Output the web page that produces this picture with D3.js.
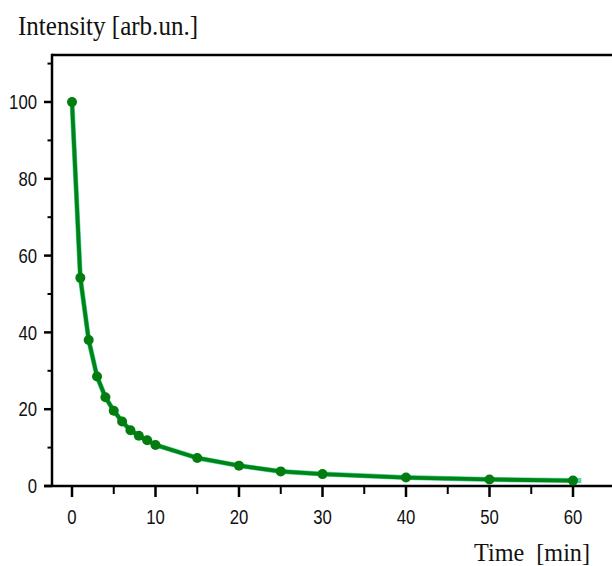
<!DOCTYPE html>
<html>
<head>
<meta charset="utf-8">
<script src="https://cdn.jsdelivr.net/npm/d3@7.9.0/dist/d3.min.js"></script>
<style>
  body { margin: 0; background: #fff; }
  svg { display: block; }
  .tick-label { font-family: "Liberation Sans Narrow", "Liberation Sans", Arial, sans-serif; font-size: 20px; fill: #111; }
  .title { font-family: "Liberation Serif", "DejaVu Serif", serif; font-size: 27px; fill: #111; }
</style>
</head>
<body>
<svg id="chart" width="612" height="566"></svg>
<script>
// data
const times = [0, 1, 2, 3, 4, 5, 6, 7, 8, 9, 10, 15, 20, 25, 30, 40, 50, 60];
const intensity = [100, 54.2, 38, 28.5, 23.1, 19.6, 16.8, 14.5, 13.1, 11.9, 10.7, 7.3, 5.3, 3.8, 3.1, 2.2, 1.7, 1.4];
const xMajorTicks = [0, 10, 20, 30, 40, 50, 60];
const xMinorTicks = [5, 15, 25, 35, 45, 55, 65];
const yMajorTicks = [0, 20, 40, 60, 80, 100];
const yMinorTicks = [10, 30, 50, 70, 90, 110];
const tailTime = 61; // fit line runs a little past the last point

const svg = d3.select('#chart');

const x = d3.scaleLinear().domain([0, 60]).range([72, 573]);
const y = d3.scaleLinear().domain([0, 100]).range([486, 102]);

const axisX = 52;
const axisY = 486;
const topY = 55;

// narrow digits, like Arial Narrow
const digitW = 9.3;

// frame: top line, left axis, bottom axis
svg.append('line')
  .attr('x1', axisX).attr('x2', 612)
  .attr('y1', topY).attr('y2', topY)
  .attr('stroke', '#000').attr('stroke-width', 2.5);

svg.append('line')
  .attr('x1', axisX).attr('x2', axisX)
  .attr('y1', topY - 1.2).attr('y2', axisY)
  .attr('stroke', '#000').attr('stroke-width', 2.5);

svg.append('line')
  .attr('x1', 44).attr('x2', 612)
  .attr('y1', axisY).attr('y2', axisY)
  .attr('stroke', '#000').attr('stroke-width', 2.5);

// y ticks
yMajorTicks.forEach((v) => {
  svg.append('line')
    .attr('x1', 44).attr('x2', axisX)
    .attr('y1', y(v)).attr('y2', y(v))
    .attr('stroke', '#000').attr('stroke-width', 2.5);
  svg.append('text')
    .attr('class', 'tick-label')
    .attr('x', 37).attr('y', y(v))
    .attr('dy', '0.36em')
    .attr('text-anchor', 'end')
    .attr('textLength', String(v).length * digitW)
    .attr('lengthAdjust', 'spacingAndGlyphs')
    .text(v);
});
yMinorTicks.forEach((v) => {
  svg.append('line')
    .attr('x1', 47.5).attr('x2', axisX)
    .attr('y1', y(v)).attr('y2', y(v))
    .attr('stroke', '#000').attr('stroke-width', 2);
});

// x ticks
xMajorTicks.forEach((v) => {
  svg.append('line')
    .attr('x1', x(v)).attr('x2', x(v))
    .attr('y1', axisY).attr('y2', axisY + 11)
    .attr('stroke', '#000').attr('stroke-width', 2.5);
  svg.append('text')
    .attr('class', 'tick-label')
    .attr('x', x(v)).attr('y', 517)
    .attr('dy', '0.36em')
    .attr('text-anchor', 'middle')
    .attr('textLength', String(v).length * digitW)
    .attr('lengthAdjust', 'spacingAndGlyphs')
    .text(v);
});
xMinorTicks.forEach((v) => {
  svg.append('line')
    .attr('x1', x(v)).attr('x2', x(v))
    .attr('y1', axisY).attr('y2', axisY + 8)
    .attr('stroke', '#000').attr('stroke-width', 2);
});

// lines
const pts = times.map((t, i) => [t, intensity[i]]);
const fitPts = pts.concat([[tailTime, intensity[intensity.length - 1]]]);
const line = d3.line().x((d) => x(d[0])).y((d) => y(d[1]));

svg.append('path')
  .attr('d', line(fitPts))
  .attr('fill', 'none')
  .attr('stroke', '#4fd9a8')
  .attr('stroke-width', 5)
  .attr('stroke-linejoin', 'round');

svg.append('path')
  .attr('d', line(pts))
  .attr('fill', 'none')
  .attr('stroke', '#038315')
  .attr('stroke-width', 3.8)
  .attr('stroke-linejoin', 'round');

svg.selectAll('circle.pt')
  .data(pts)
  .join('circle')
  .attr('class', 'pt')
  .attr('cx', (d) => x(d[0]))
  .attr('cy', (d) => y(d[1]))
  .attr('r', 5)
  .attr('fill', '#037c10');

// titles
svg.append('text')
  .attr('class', 'title')
  .attr('x', 18).attr('y', 35)
  .attr('textLength', 180)
  .attr('lengthAdjust', 'spacingAndGlyphs')
  .text('Intensity [arb.un.]');

svg.append('text')
  .attr('class', 'title')
  .attr('x', 474).attr('y', 561)
  .attr('textLength', 116)
  .attr('lengthAdjust', 'spacingAndGlyphs')
  .style('font-size', '25px')
  .attr('xml:space', 'preserve')
  .style('white-space', 'pre')
  .text('Time  [min]');
</script>
</body>
</html>
